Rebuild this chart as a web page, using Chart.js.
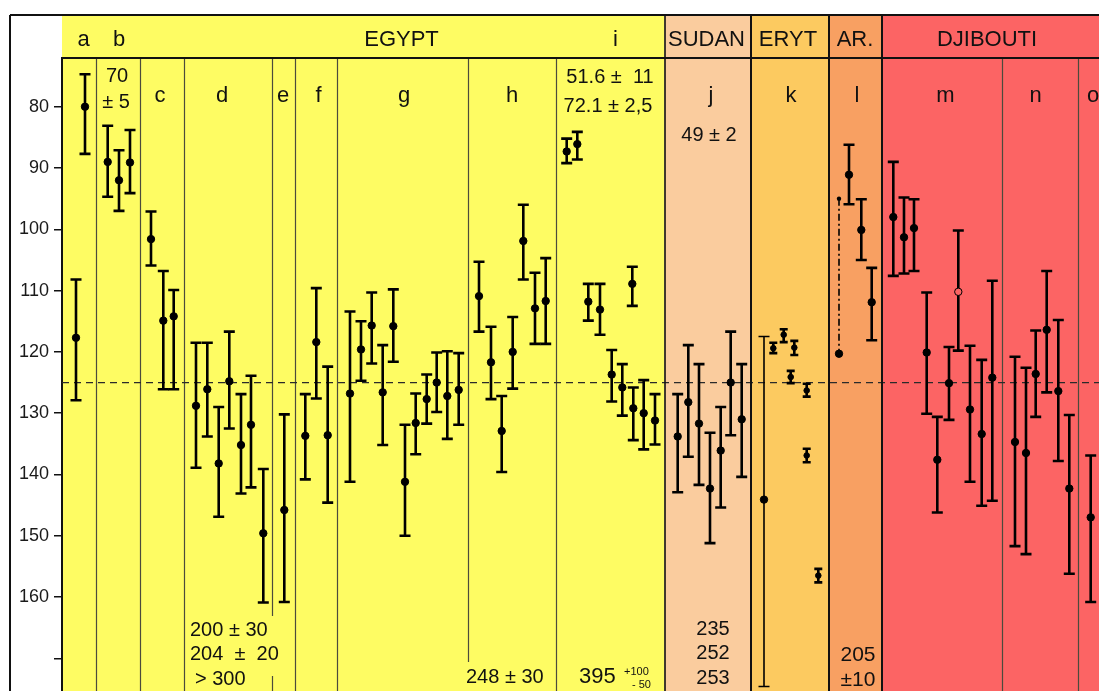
<!DOCTYPE html>
<html><head><meta charset="utf-8">
<script src="https://cdn.jsdelivr.net/npm/chart.js@4.4.1/dist/chart.umd.min.js"></script>
<style>html,body{margin:0;padding:0;background:#fff;overflow:hidden}canvas{display:block}</style>
</head><body><canvas id="c" width="1099" height="691"></canvas>
<script>
// ---------------- data ----------------
const sampleSite = ['a','a','b','b','b','c','c','c',
  'd','d','d','d','d','d','d','e','f','f','f',
  'g','g','g','g','g','g','g','g','g','g','g',
  'h','h','h','h','h','h','h',
  'i','i','i','i','i','i','i','i','i','i',
  'j','j','j','j','j','j','j',
  'k','k','k','k','k','k','k','k',
  'l','l','l','l',
  'm','m','m','m','m','m','m','m','m','m',
  'n','n','n','n','n','n','o'];
// position along the strip (strip units)
const xPos = [23,14, 45.7,57,68, 89,101.3,111.7,
  134,145.3,156.7,167.3,179,189,201.3, 222.3, 243.3,254.3,265.7,
  288,299,309.7,320.7,331.3,343,353.7,364.7,374.7,385.3,396.7,
  417,429,439.7,450.7,461.3,473,483.7,
  504.7,515.3,526.3,538,570.3,549.7,560.3,571.3,581.7,593,
  615.7,626.3,637,648,658.7,668.7,679.7,
  702,711.3,721.7,732.3,728.7,744.7,744.7,756.3,
  777,787,799.3,809.7,
  831.3,842,852,864.7,875.3,887,896.3,908,919.7,930.3,
  953,964,973.7,984.7,996.3,1007.3, 1028.7];
const meanVal = [80.0,117.7, 89.0,92.0,89.1, 101.6,114.9,114.2,
  128.8,126.1,138.2,124.8,135.2,131.9,149.6, 145.8, 133.7,118.4,133.6,
  126.8,119.6,115.7,126.6,115.8,141.2,131.6,127.7,125.0,127.2,126.2,
  110.9,121.7,132.9,120.0,101.9,112.9,111.7,
  87.3,86.1,111.8,113.1,108.9,123.7,125.8,129.2,130.0,131.2,
  133.8,128.2,131.7,142.3,136.1,125.0,131.0,
  144.1,119.4,117.2,119.3,124.1,126.3,136.9,156.5,
  120.3,91.1,100.1,111.9,
  98.0,101.3,99.8,120.1,137.6,125.1,110.2,129.4,133.4,124.2,
  134.7,136.5,123.6,116.4,126.4,142.3, 147.0];
const lowVal = [74.7,108.2, 83.1,87.1,83.8, 97.1,106.8,109.9,
  118.5,118.5,129.0,116.7,126.9,123.9,139.1, 130.2, 126.9,109.6,122.4,
  113.4,115.0,110.3,118.9,109.8,131.9,126.8,123.7,120.1,119.9,120.2,
  105.3,115.9,127.2,114.3,96.0,107.1,104.7,
  85.2,84.1,108.9,108.9,106.1,119.7,122.0,125.8,124.6,126.9,
  126.9,118.9,122.0,133.2,129.0,116.7,122.0,
  117.5,118.5,116.3,118.2,123.1,125.2,135.8,155.4,
  95.0,86.2,95.1,106.3,
  89.0,94.8,95.1,110.3,130.6,119.2,100.2,119.0,121.3,108.4,
  120.8,122.6,116.5,106.8,114.8,130.3, 136.9];
const highVal = [87.7,127.9, 94.7,97.0,94.1, 105.9,126.1,126.1,
  138.9,133.8,146.9,132.5,143.1,142.1,160.9, 160.8, 140.8,127.6,144.6,
  141.2,124.7,121.9,135.2,121.6,150.0,136.7,131.7,129.8,134.2,131.9,
  116.7,127.7,139.6,126.0,108.2,118.7,118.7,
  89.2,88.6,114.9,117.2,112.5,128.1,130.4,134.4,135.9,135.1,
  142.9,137.1,141.7,151.2,145.4,133.6,140.4,
  174.6,120.2,118.4,120.5,125.1,127.3,138.0,157.6,
  120.3,95.9,105.0,118.1,
  107.6,107.2,106.8,130.1,146.2,131.1,119.8,141.2,145.1,144.3,
  151.7,153.0,130.6,126.6,137.8,156.2, 160.8];
// how each interval is drawn: n normal, t thin, d dash-dot range, o open point
const pointKind = meanVal.map(() => 'n');
pointKind[54] = 't'; pointKind[62] = 'd'; pointKind[72] = 'o';

const regionNames = ['EGYPT','SUDAN','ERYT','AR.','DJIBOUTI'];
const regionStart = [0, 602.5, 688.5, 766.5, 820.5];
const regionEnd   = [602.5, 688.5, 766.5, 820.5, 1037];
const subDividers = [34, 78, 122, 210, 233, 275, 406, 494, 940, 1016];
const headerLabels = ['a','b','EGYPT','i','SUDAN','ERYT','AR.','DJIBOUTI'];
const headerLabelX = [21.5, 57, 339.5, 553.5, 644.5, 726, 793, 925];
const siteLabels = ['c','d','e','f','g','h','j','k','l','m','n','o'];
const siteLabelX = [98, 160, 221, 256.5, 342, 450, 649, 729, 795, 883.5, 973.5, 1031];
const yTickValues = [80,90,100,110,120,130,140,150,160,170];
const referenceAge = 125;

// ---------------- style ----------------
const regionColors = ['#FEFC63','#FACC9E','#FCCA60','#F8A062','#FC6464'];
const FONT = '"Liberation Sans", Arial, Helvetica, sans-serif';
const notes = [
  {t:'70', x:55, y:82, s:20, a:'center'},
  {t:'± 5', x:54, y:108, s:20, a:'center'},
  {t:'51.6 ±  11', x:548, y:83, s:20, a:'center'},
  {t:'72.1 ± 2,5', x:546, y:112, s:20, a:'center'},
  {t:'49 ± 2', x:647, y:141, s:20, a:'center'},
  {t:'200 ± 30', x:128, y:636, s:20, a:'left'},
  {t:'204  ±  20', x:128, y:660, s:20, a:'left'},
  {t:'> 300', x:133, y:685, s:20, a:'left'},
  {t:'248 ± 30', x:404, y:683, s:20, a:'left'},
  {t:'395', x:517, y:683, s:22, a:'left'},
  {t:'+100', x:562, y:675, s:11, a:'left'},
  {t:'- 50', x:570, y:688, s:11, a:'left'},
  {t:'235', x:651, y:635, s:20, a:'center'},
  {t:'252', x:651, y:659, s:20, a:'center'},
  {t:'253', x:651, y:684, s:20, a:'center'},
  {t:'205', x:796, y:661, s:21, a:'center'},
  {t:'±10', x:796, y:686, s:21, a:'center'}
];
const dividerGaps = {210: [163.1, 172.9], 406: [170.6, 180]};

const backgroundPlugin = {
  id: 'bands',
  beforeDraw(chart) {
    const {ctx, chartArea: ca, scales: {x: xs}} = chart;
    ctx.save();
    ctx.fillStyle = '#fff';
    ctx.fillRect(0, 0, chart.width, chart.height);
    const headTop = ca.top - 43;
    regionNames.forEach((n, i) => {
      const x0 = xs.getPixelForValue(regionStart[i]);
      const x1 = xs.getPixelForValue(regionEnd[i]);
      ctx.fillStyle = regionColors[i];
      ctx.fillRect(x0, headTop, x1 - x0, ca.bottom - headTop);
    });
    ctx.restore();
  },
  beforeDatasetsDraw(chart) {
    const {ctx, chartArea: ca, scales: {x: xs, y: ys}} = chart;
    ctx.save();
    // sub dividers
    ctx.strokeStyle = '#4b4b3c';
    ctx.lineWidth = 1.2;
    subDividers.forEach(d => {
      const px = Math.round(xs.getPixelForValue(d)) + 0.5;
      ctx.beginPath();
      const gap = dividerGaps[d];
      if (gap) {
        ctx.moveTo(px, ca.top); ctx.lineTo(px, ys.getPixelForValue(gap[0]));
        const g1 = Math.min(ys.getPixelForValue(gap[1]), ca.bottom);
        if (g1 < ca.bottom) { ctx.moveTo(px, g1); ctx.lineTo(px, ca.bottom); }
      } else {
        ctx.moveTo(px, ca.top); ctx.lineTo(px, ca.bottom);
      }
      ctx.stroke();
    });
    // reference line
    const ry = ys.getPixelForValue(referenceAge);
    ctx.setLineDash([7, 5]);
    ctx.strokeStyle = '#2a2a2a';
    ctx.lineWidth = 1.3;
    ctx.beginPath(); ctx.moveTo(ca.left, ry); ctx.lineTo(ca.right, ry); ctx.stroke();
    ctx.setLineDash([]);
    // text notes
    ctx.fillStyle = '#111';
    ctx.textBaseline = 'alphabetic';
    notes.forEach(n => {
      ctx.font = n.s + 'px ' + FONT;
      ctx.textAlign = n.a;
      ctx.fillText(n.t, xs.getPixelForValue(n.x), n.y);
    });
    // site letters
    ctx.font = '22px ' + FONT;
    ctx.textAlign = 'center';
    siteLabels.forEach((l, i) => ctx.fillText(l, xs.getPixelForValue(siteLabelX[i]), ca.top + 44));
    // error bars
    ctx.strokeStyle = '#000';
    xPos.forEach((xv, i) => {
      const px = xs.getPixelForValue(xv);
      const yA = ys.getPixelForValue(lowVal[i]);
      const yB = ys.getPixelForValue(highVal[i]);
      const k = pointKind[i];
      if (k === 'd') {
        ctx.lineWidth = 1.6;
        ctx.setLineDash([7, 3, 2, 3]);
        ctx.beginPath(); ctx.moveTo(px, yA); ctx.lineTo(px, yB); ctx.stroke();
        ctx.setLineDash([]);
        ctx.fillStyle = '#000';
        ctx.beginPath(); ctx.arc(px, yA, 2.2, 0, Math.PI * 2); ctx.fill();
        return;
      }
      ctx.lineWidth = k === 't' ? 1.6 : 2.6;
      const cap = (highVal[i] - lowVal[i]) < 4 ? 4 : 5.5;
      ctx.beginPath();
      ctx.moveTo(px, yA); ctx.lineTo(px, yB);
      ctx.moveTo(px - cap, yA); ctx.lineTo(px + cap, yA);
      ctx.moveTo(px - cap, yB); ctx.lineTo(px + cap, yB);
      ctx.stroke();
    });
    ctx.restore();
  },
  afterDraw(chart) {
    const {ctx, chartArea: ca, scales: {x: xs}} = chart;
    const headTop = ca.top - 43;
    ctx.save();
    ctx.strokeStyle = '#111';
    // main region dividers
    regionStart.slice(1).forEach((s, i) => {
      const px = Math.round(xs.getPixelForValue(s));
      ctx.lineWidth = i === 0 ? 1.6 : 2;
      ctx.beginPath(); ctx.moveTo(px, headTop); ctx.lineTo(px, ca.bottom); ctx.stroke();
    });
    // header bottom, top border, left border
    ctx.lineWidth = 2;
    ctx.beginPath(); ctx.moveTo(ca.left, ca.top); ctx.lineTo(ca.right, ca.top); ctx.stroke();
    ctx.beginPath(); ctx.moveTo(10, headTop); ctx.lineTo(ca.right, headTop); ctx.stroke();
    ctx.beginPath(); ctx.moveTo(10, headTop); ctx.lineTo(10, ca.bottom); ctx.stroke();
    // header labels
    ctx.fillStyle = '#111';
    ctx.textAlign = 'center';
    ctx.textBaseline = 'alphabetic';
    ctx.font = '22px ' + FONT;
    headerLabels.forEach((l, i) => {
      ctx.fillText(l, xs.getPixelForValue(headerLabelX[i]), headTop + 31);
    });
    ctx.restore();
  }
};

new Chart(document.getElementById('c'), {
  type: 'scatter',
  data: {
    datasets: [{
      data: xPos.map((x, i) => ({x: x, y: meanVal[i]})),
      pointRadius: pointKind.map((k, i) => (highVal[i] - lowVal[i]) < 4 ? 2.8 : 3.7),
      pointBackgroundColor: pointKind.map(k => k === 'o' ? regionColors[4] : '#000'),
      pointBorderColor: '#000',
      pointBorderWidth: 1,
      showLine: false
    }]
  },
  options: {
    responsive: false,
    animation: false,
    devicePixelRatio: 1,
    events: [],
    layout: {autoPadding: false, padding: {left: 10, top: 58, right: 0, bottom: 0}},
    plugins: {legend: {display: false}, tooltip: {enabled: false}},
    scales: {
      x: {type: 'linear', min: 0, max: 1037, display: false},
      y: {
        type: 'linear', reverse: true, min: 72.05, max: 175.33,
        afterBuildTicks: s => { s.ticks = yTickValues.map(v => ({value: v})); },
        afterFit: s => { s.width = 52; s.paddingTop = 0; s.paddingBottom = 0; },
        ticks: {
          padding: 5, color: '#1a1a1a',
          font: {family: FONT, size: 18},
          callback: v => (v === 170 ? '' : String(v))
        },
        grid: {drawOnChartArea: false, drawTicks: true, tickLength: 8, color: '#111', lineWidth: 1.5},
        border: {display: true, color: '#111', width: 2}
      }
    }
  },
  plugins: [backgroundPlugin]
});
</script>
</body></html>
